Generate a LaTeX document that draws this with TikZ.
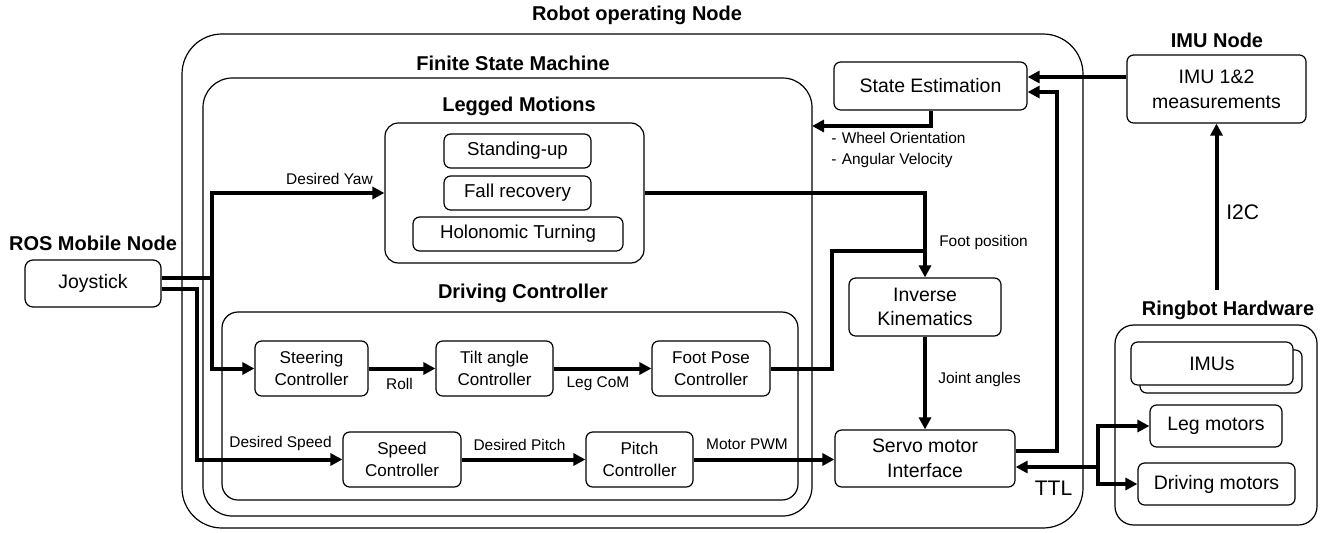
\documentclass[tikz,border=0pt]{standalone}
\usepackage{fontspec}
\setmainfont{Liberation Sans}
\usetikzlibrary{arrows.meta,calc}
\newcommand{\mainsz}{\fontsize{14.6pt}{18.5pt}\selectfont}
\newcommand{\ctlsz}{\fontsize{12.8pt}{16.5pt}\selectfont}
\newcommand{\lgsz}{\fontsize{14pt}{17pt}\selectfont}
\newcommand{\lblsz}{\fontsize{11.6pt}{15.75pt}\selectfont}
\newcommand{\bigsz}{\fontsize{15.8pt}{18pt}\selectfont}
\newcommand{\ttlsz}{\fontsize{15pt}{18pt}\selectfont}

\begin{document}
\begin{tikzpicture}[x=0.75pt,y=-0.75pt,
  every node/.style={inner sep=1.5pt},
  frame/.style={draw,line width=0.9pt},
  container/.style={frame,inner sep=0pt},
  box/.style={frame,rounded corners=5pt,align=center,font=\mainsz,fill=white},
  sub/.style={box,minimum height=25.5pt,font=\lgsz},
  ctl/.style={box,minimum height=41.25pt,font=\ctlsz},
  title/.style={font=\ttlsz\bfseries},
  lbl/.style={font=\lblsz},
  big/.style={font=\bigsz},
  wire/.style={line width=3pt},
  flow/.style={wire,-{Triangle[length=9pt,width=9pt]}},
]
\useasboundingbox (0,0) rectangle (1333,532);

% nested frames
\node[container,rounded corners=30pt,minimum width=675.75pt,minimum height=370.5pt] (ron) at (632.5,281) {};
\node[container,rounded corners=22pt,minimum width=456.75pt,minimum height=328.5pt] (fsm) at (507.5,297) {};
\node[container,rounded corners=10pt,minimum width=194.25pt,minimum height=105pt] (legged) at (514.5,193) {};
\node[container,rounded corners=12pt,minimum width=432pt,minimum height=141pt] (drive) at (510,406) {};
\node[container,rounded corners=14pt,minimum width=151.5pt,minimum height=150pt] (hw) at (1216,425) {};

% frame titles
\node[title] (tron) at (637,15) {Robot operating Node};
\node[title] (tfsm) at (513,63) {Finite State Machine};
\node[title] (tleg) at (519,106) {Legged Motions};
\node[title] (tdrv) at (523,293) {Driving Controller};
\node[title] (tros) at (93,243) {ROS Mobile Node};
\node[title] (timu) at (1217,40) {IMU Node};
\node[title] (thw) at (1228,310) {Ringbot Hardware};

% blocks
\node[box,rounded corners=6pt,minimum width=102pt,minimum height=35.25pt] (joy) at (93,283.5) {Joystick};
\node[sub,minimum width=110.25pt] (stand) at (517.5,151) {Standing-up};
\node[sub,minimum width=110.25pt] (fall) at (517.5,193) {Fall recovery};
\node[sub,minimum width=157.5pt] (holo) at (518,234) {Holonomic Turning};
\node[ctl,minimum width=84.75pt] (steer) at (311.5,368.5) {Steering\\Controller};
\node[ctl,minimum width=87.75pt] (tilt) at (494.5,368.5) {Tilt angle\\Controller};
\node[ctl,minimum width=88.5pt] (foot) at (711,368.5) {Foot Pose\\Controller};
\node[ctl,minimum width=88.5pt] (speed) at (402,459.5) {Speed\\Controller};
\node[ctl,minimum width=80.25pt] (pitch) at (639.5,459.5) {Pitch\\Controller};
\node[box,minimum width=144.75pt,minimum height=36pt] (state) at (930.5,86) {State Estimation};
\node[box,minimum width=114pt,minimum height=43.5pt] (ik) at (925,307) {Inverse\\Kinematics};
\node[box,minimum width=135pt,minimum height=42.75pt] (servo) at (925,458.5) {Servo motor\\Interface};
\node[box,minimum width=134.25pt,minimum height=51pt] (imu) at (1216.5,89) {IMU 1\&2\\measurements};
\node[box,minimum width=121.5pt,minimum height=32.25pt] (imusb) at (1221,371.5) {};
\node[box,minimum width=121.5pt,minimum height=32.25pt] (imus) at (1212,363.5) {IMUs};
\node[box,minimum width=99pt,minimum height=31.5pt] (leg) at (1216,426) {Leg motors};
\node[box,minimum width=117.75pt,minimum height=31.5pt] (drv) at (1216.5,484) {Driving motors};

% signal flow
\coordinate (jy) at (212,278);
\coordinate (js) at (197,289);
\draw[flow] ($(joy.east)+(0,-5.5)$) -- (jy) |- (steer.west);
\draw[flow] (jy) |- (legged.west);
\draw[flow] ($(joy.east)+(0,5.5)$) -- (js) |- (speed.west);
\draw[flow] (steer) -- (tilt);
\draw[flow] (tilt) -- (foot);
\draw[flow] (speed) -- (pitch);
\draw[flow] (pitch.east) -- (servo.west |- pitch.east);
\draw[flow] (legged.east) -| (ik.north);
\coordinate (fpc) at (832,251);
\draw[wire] (foot.east) -| (fpc) -- (fpc -| ik.north);
\draw[flow] (ik) -- (servo);
\coordinate (wo) at (812,126);
\draw[flow] (state.south) |- (wo);
\draw[flow] ($(imu.west)+(0,-12)$) -- ($(state.east)+(0,-9)$);
\coordinate (sv) at (1057,92);
\draw[flow] ($(servo.east)+(0,-7.5)$) -| (sv) -- ($(state.east)+(0,6)$);
\coordinate (i2c) at (1216.5,290);
\draw[flow] (i2c) -- (imu.south);
\coordinate (tb) at (1098,467);
\draw[flow] (tb) -- (tb -| servo.east);
\draw[flow] (tb) |- (leg.west);
\draw[flow] (tb) |- (drv.west);

% signal labels
\node[lbl] (lyaw) at (329.5,179) {Desired Yaw};
\node[lbl] (lroll) at (399.5,384) {Roll};
\node[lbl] (lcom) at (598,384) {Leg CoM};
\node[lbl] (lspd) at (280.5,443) {Desired Speed};
\node[lbl] (lpitch) at (519.5,445) {Desired Pitch};
\node[lbl] (lpwm) at (747,444) {Motor PWM};
\node[lbl,anchor=west] (lfoot) at (937,242) {Foot position};
\node[lbl,anchor=west] (ljoint) at (936,379) {Joint angles};
\node[lbl,anchor=west,align=left] (lstate) at (829,150) {-\hspace{4pt}Wheel Orientation\\-\hspace{4pt}Angular Velocity};
\node[big,anchor=west] (li2c) at (1224,212) {I2C};
\node[big] (lttl) at (1053.5,488) {TTL};
\end{tikzpicture}
\end{document}
